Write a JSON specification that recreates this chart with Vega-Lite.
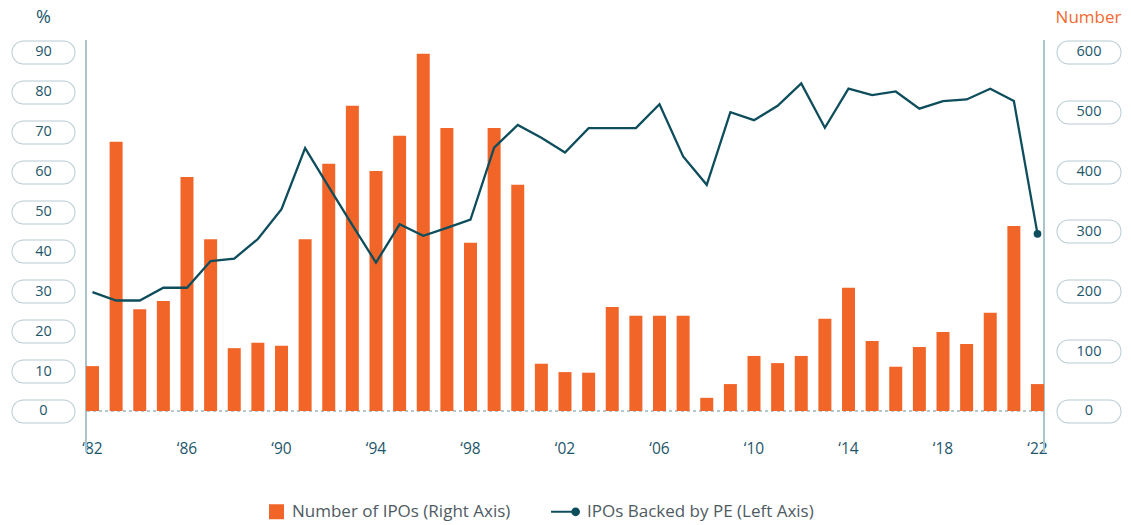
{
  "$schema": "https://vega.github.io/schema/vega-lite/v6.json",
  "width": 958,
  "height": 412,
  "autosize": "none",
  "padding": {"left": 86, "top": 40, "right": 87, "bottom": 73},
  "background": "#ffffff",
  "config": {
    "view": {"stroke": null},
    "font": "Open Sans",
    "axis": {"labelFont": "Open Sans", "titleFont": "Open Sans"},
    "legend": {"labelFont": "Open Sans"},
    "axisX": {"labelExpr": "(datum.value - 1982) % 4 === 0 ? '‘' + slice(toString(datum.value), 2) : ''", "labelAngle": 0, "domain": false, "ticks": false, "tickSize": 0, "labelPadding": -4, "labelBaseline": "middle", "labelFontSize": 15.5, "labelColor": "#1d566a", "title": null, "grid": false, "labelOverlap": false}
  },
  "data": {
    "values": [
      {"year": 1982, "ipos": 75, "pe": 29.8},
      {"year": 1983, "ipos": 450, "pe": 27.7},
      {"year": 1984, "ipos": 170, "pe": 27.7},
      {"year": 1985, "ipos": 184, "pe": 30.9},
      {"year": 1986, "ipos": 391, "pe": 30.9},
      {"year": 1987, "ipos": 287, "pe": 37.6},
      {"year": 1988, "ipos": 105, "pe": 38.2},
      {"year": 1989, "ipos": 114, "pe": 43.1},
      {"year": 1990, "ipos": 109, "pe": 50.6},
      {"year": 1991, "ipos": 287, "pe": 65.9},
      {"year": 1992, "ipos": 413, "pe": 56.2},
      {"year": 1993, "ipos": 510, "pe": 46.6},
      {"year": 1994, "ipos": 401, "pe": 37.2},
      {"year": 1995, "ipos": 460, "pe": 46.8},
      {"year": 1996, "ipos": 597, "pe": 43.9},
      {"year": 1997, "ipos": 473, "pe": 45.9},
      {"year": 1998, "ipos": 281, "pe": 48.0},
      {"year": 1999, "ipos": 473, "pe": 66.0},
      {"year": 2000, "ipos": 378, "pe": 71.7},
      {"year": 2001, "ipos": 79, "pe": 68.5},
      {"year": 2002, "ipos": 65, "pe": 64.8},
      {"year": 2003, "ipos": 64, "pe": 70.9},
      {"year": 2004, "ipos": 174, "pe": 70.9},
      {"year": 2005, "ipos": 159, "pe": 70.9},
      {"year": 2006, "ipos": 159, "pe": 76.9},
      {"year": 2007, "ipos": 159, "pe": 63.8},
      {"year": 2008, "ipos": 22, "pe": 56.7},
      {"year": 2009, "ipos": 45, "pe": 74.9},
      {"year": 2010, "ipos": 92, "pe": 72.9},
      {"year": 2011, "ipos": 80, "pe": 76.5},
      {"year": 2012, "ipos": 92, "pe": 82.1},
      {"year": 2013, "ipos": 154, "pe": 71.0},
      {"year": 2014, "ipos": 206, "pe": 80.8},
      {"year": 2015, "ipos": 117, "pe": 79.2},
      {"year": 2016, "ipos": 74, "pe": 80.1},
      {"year": 2017, "ipos": 107, "pe": 75.8},
      {"year": 2018, "ipos": 132, "pe": 77.7},
      {"year": 2019, "ipos": 112, "pe": 78.1},
      {"year": 2020, "ipos": 164, "pe": 80.8},
      {"year": 2021, "ipos": 309, "pe": 77.7},
      {"year": 2022, "ipos": 45, "pe": 44.4}
    ]
  },
  "layer": [
    {
      "mark": {"type": "rule", "color": "#b3c8ce", "strokeWidth": 1, "strokeDash": [3, 3]},
      "encoding": {
        "y": {"datum": 0, "type": "quantitative", "scale": {"domain": [-10.28, 93.0]}, "axis": null}
      }
    },
    {
      "mark": {"type": "rule", "color": "#a9c3ca", "strokeWidth": 1},
      "encoding": {
        "x": {"datum": 1982, "type": "ordinal", "bandPosition": 0, "scale": {"paddingInner": 0.45, "paddingOuter": 0}}
      }
    },
    {
      "mark": {"type": "rule", "color": "#a9c3ca", "strokeWidth": 1},
      "encoding": {
        "x": {"datum": 2022, "type": "ordinal", "bandPosition": 1, "scale": {"paddingInner": 0.45, "paddingOuter": 0}}
      }
    },
    {
      "mark": {"type": "bar", "opacity": 0},
      "encoding": {
        "x": {"field": "year", "type": "ordinal", "scale": {"paddingInner": 0.45, "paddingOuter": 0}},
        "y": {"field": "ipos", "type": "quantitative", "scale": {"domain": [-68.53, 620]},
          "axis": {"orient": "right", "values": [0,100,200,300,400,500,600], "offset": 24, "tickSize": 41, "tickWidth": 24, "tickCap": "round", "tickColor": "#b7cbd2", "labels": false, "domain": false, "grid": false, "title": null}}
      }
    },
    {
      "mark": {"type": "bar", "color": "#f26529"},
      "encoding": {
        "x": {"field": "year", "type": "ordinal", "scale": {"paddingInner": 0.45, "paddingOuter": 0}},
        "y": {"field": "ipos", "type": "quantitative", "scale": {"domain": [-68.53, 620]},
          "axis": {"orient": "right", "values": [0,100,200,300,400,500,600], "offset": 24, "tickSize": 41, "tickWidth": 22, "tickCap": "round", "tickColor": "#ffffff", "labelAlign": "center", "labelBaseline": "middle", "labelPadding": -20.5, "labelFontSize": 14.5, "labelColor": "#1d566a", "domain": false, "grid": false,
            "title": "Number", "titleAngle": 0, "titleX": 20, "titleY": -23, "titleAlign": "center", "titleBaseline": "middle", "titleFontSize": 17, "titleFontWeight": "normal", "titleColor": "#f26a30"}},
        "color": {"datum": "Number of IPOs (Right Axis)",
          "scale": {"domain": ["Number of IPOs (Right Axis)", "IPOs Backed by PE (Left Axis)"], "range": ["#f26529", "#0e4d5c"]},
          "legend": {"orient": "none", "legendX": 182, "legendY": 463, "direction": "horizontal", "title": null, "symbolSize": 225, "labelFontSize": 17, "labelColor": "#4f5b62", "columnPadding": 36, "labelOffset": 7, "labelLimit": 400,
            "encode": {"symbols": {"update": {
              "shape": {"signal": "datum.value === 'Number of IPOs (Right Axis)' ? 'square' : 'M-2.73,0H0.55M0.1,0A0.45,0.45 0 1,0 1.0,0A0.45,0.45 0 1,0 0.1,0Z'"},
              "fill": {"signal": "datum.value === 'Number of IPOs (Right Axis)' ? '#f26529' : '#0e4d5c'"},
              "stroke": {"signal": "datum.value === 'Number of IPOs (Right Axis)' ? '#f26529' : '#0e4d5c'"},
              "strokeWidth": {"signal": "datum.value === 'Number of IPOs (Right Axis)' ? 0 : 2"},
              "opacity": {"value": 1},
              "fillOpacity": {"value": 1}
            }}}}}
      }
    },
    {
      "mark": {"type": "line", "opacity": 0},
      "encoding": {
        "x": {"field": "year", "type": "ordinal", "scale": {"paddingInner": 0.45, "paddingOuter": 0}},
        "y": {"field": "pe", "type": "quantitative", "scale": {"domain": [-10.28, 93.0]},
          "axis": {"orient": "left", "values": [0,10,20,30,40,50,60,70,80,90], "offset": 23, "tickSize": 40, "tickWidth": 24, "tickCap": "round", "tickColor": "#b7cbd2", "labels": false, "domain": false, "grid": false, "title": null}}
      }
    },
    {
      "mark": {"type": "line", "strokeWidth": 2.3},
      "encoding": {
        "x": {"field": "year", "type": "ordinal", "scale": {"paddingInner": 0.45, "paddingOuter": 0}},
        "y": {"field": "pe", "type": "quantitative", "scale": {"domain": [-10.28, 93.0]},
          "axis": {"orient": "left", "values": [0,10,20,30,40,50,60,70,80,90], "offset": 23, "tickSize": 40, "tickWidth": 22, "tickCap": "round", "tickColor": "#ffffff", "labelAlign": "center", "labelBaseline": "middle", "labelPadding": -20, "labelFontSize": 14.5, "labelColor": "#1d566a", "domain": false, "grid": false,
            "title": "%", "titleAngle": 0, "titleX": -20, "titleY": -23, "titleAlign": "center", "titleBaseline": "middle", "titleFontSize": 18, "titleFontWeight": "normal", "titleColor": "#1d566a"}},
        "color": {"datum": "IPOs Backed by PE (Left Axis)"}
      }
    },
    {
      "transform": [{"filter": "datum.year === 2022"}],
      "mark": {"type": "point", "filled": true, "opacity": 1, "size": 60, "color": "#0e4d5c"},
      "encoding": {
        "x": {"field": "year", "type": "ordinal", "scale": {"paddingInner": 0.45, "paddingOuter": 0}},
        "y": {"field": "pe", "type": "quantitative", "scale": {"domain": [-10.28, 93.0]}, "axis": null}
      }
    }
  ],
  "resolve": {"scale": {"y": "independent"}}
}
